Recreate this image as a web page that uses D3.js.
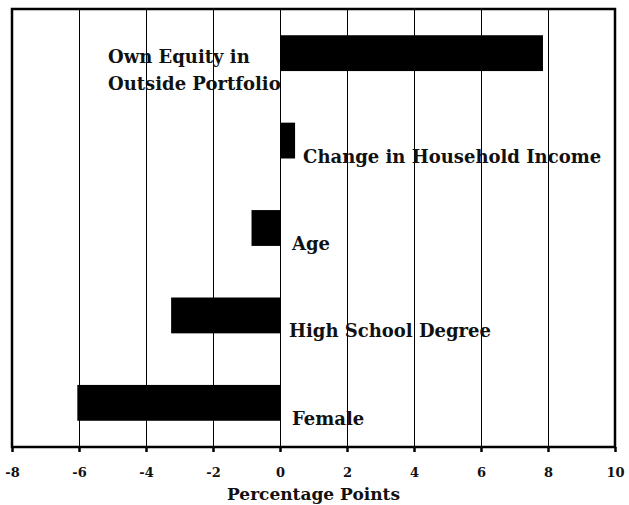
<!DOCTYPE html>
<html><head><meta charset="utf-8">
<script src="https://cdn.jsdelivr.net/npm/d3@7"></script>
<style>body{margin:0;background:#fff}svg{display:block}text{font-family:"DejaVu Serif",serif;font-weight:bold;fill:#111}</style>
</head><body>
<script>
const categories = ["Own Equity in Outside Portfolio","Change in Household Income","Age","High School Degree","Female"];
const values = [7.85, 0.45, -0.85, -3.25, -6.05];
const tickValues = [-8,-6,-4,-2,0,2,4,6,8,10];
const axisTitle = "Percentage Points";

const W=629,H=505, m={l:12,r:14,t:9,b:58};
const svg=d3.select("body").append("svg").attr("width",W).attr("height",H);
const x=d3.scaleLinear().domain([-8,10]).range([m.l,W-m.r]);
const y=d3.scaleBand().domain(categories).range([m.t,H-m.b]).paddingInner(0.59).paddingOuter(0.3);
const px=v=>Math.round(x(v))+0.5;

svg.append("g").selectAll("line").data(tickValues.slice(1,-1)).join("line")
 .attr("x1",px).attr("x2",px).attr("y1",m.t).attr("y2",H-m.b)
 .attr("stroke","#000").attr("stroke-width",1).attr("shape-rendering","crispEdges");

svg.append("g").selectAll("rect").data(values).join("rect")
 .attr("x",d=>x(Math.min(0,d))).attr("width",d=>Math.abs(x(d)-x(0)))
 .attr("y",(d,i)=>y(categories[i])).attr("height",y.bandwidth()).attr("fill","#000");

svg.append("rect").attr("x",m.l).attr("y",m.t).attr("width",x(10)-x(-8)).attr("height",H-m.b-m.t)
 .attr("fill","none").attr("stroke","#000").attr("stroke-width",2.5);

const ax=svg.append("g").attr("transform",`translate(0,${H-m.b})`)
 .call(d3.axisBottom(x).tickValues(tickValues).tickSize(5).tickPadding(16).tickFormat(d=>String(d)));
ax.select(".domain").remove();
ax.selectAll("line").attr("stroke","#000").attr("stroke-width",2.5);
ax.selectAll("text").style("font-size","13px").attr("fill","#111");

svg.append("text").attr("x",(x(-8)+x(10))/2).attr("y",500).attr("text-anchor","middle")
 .style("font-size","17px").text(axisTitle);

const lab=svg.append("g");
categories.forEach((c,i)=>{
  const v=values[i];
  const cy=y(c)+y.bandwidth()/2;
  if(i===0){
    const words=c.split(" ");
    const t=lab.append("text").attr("x",x(-8)+96).attr("y",cy+10).style("font-size","18px");
    t.append("tspan").text(words.slice(0,3).join(" "));
    t.append("tspan").attr("x",x(-8)+96).attr("dy",27).text(words.slice(3).join(" "));
  } else {
    lab.append("text").attr("x",x(Math.max(0,v))+(v>0?8:(i===3?9:12))).attr("y",cy+22)
      .style("font-size","18px").text(c);
  }
});
</script>
</body></html>
